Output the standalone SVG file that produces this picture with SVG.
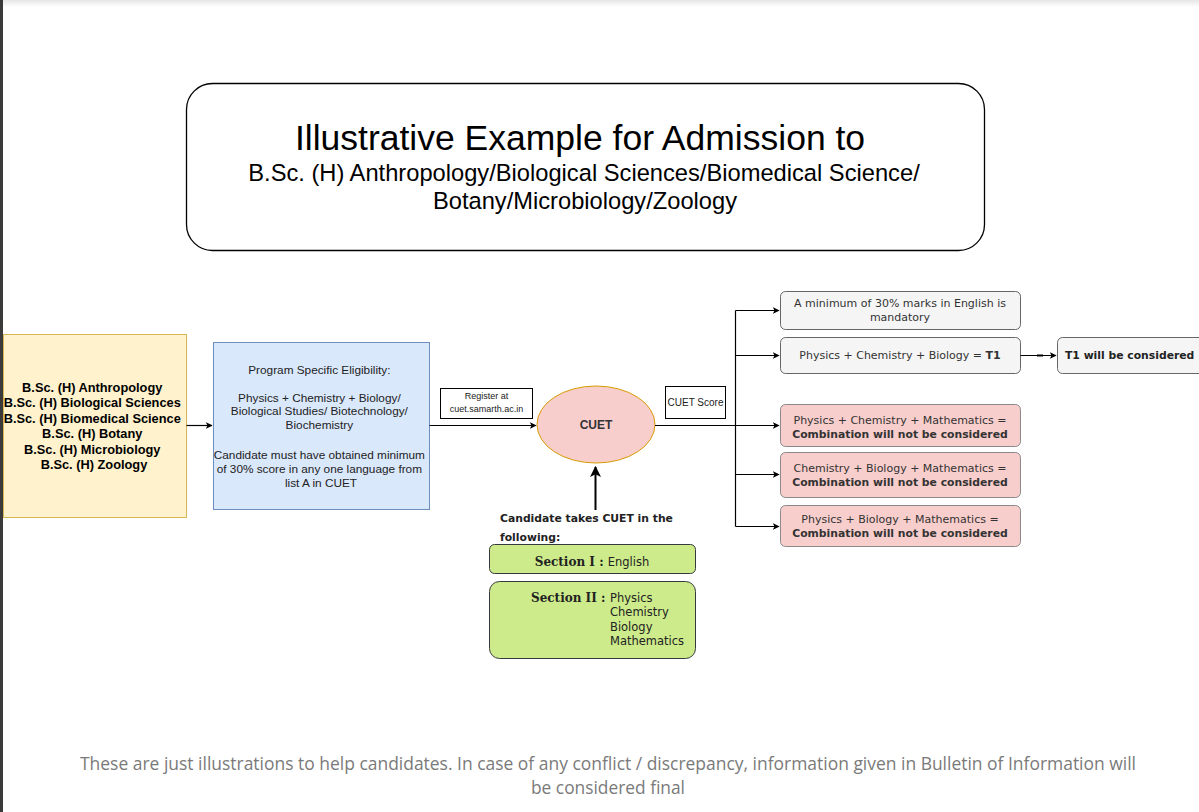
<svg xmlns="http://www.w3.org/2000/svg" width="1199" height="812" viewBox="0 0 1199 812">
<defs>
<linearGradient id="topShade" x1="0" y1="0" x2="0" y2="1">
<stop offset="0" stop-color="#e6e6e6"/>
<stop offset="1" stop-color="#ffffff"/>
</linearGradient>
<marker id="arr" viewBox="0 0 10 10" refX="9" refY="5" markerWidth="7" markerHeight="7" markerUnits="userSpaceOnUse" orient="auto">
<path d="M0,0 L10,5 L0,10 L2.5,5 Z" fill="#000"/>
</marker>
<marker id="arrBig" viewBox="0 0 10 10" refX="9" refY="5" markerWidth="11" markerHeight="11" markerUnits="userSpaceOnUse" orient="auto">
<path d="M0,0 L10,5 L0,10 L2.5,5 Z" fill="#000"/>
</marker>
</defs>
<style>
.sans{font-family:"Liberation Sans",Arial,sans-serif}
.ver{font-family:"DejaVu Sans",Verdana,sans-serif}
.conn{fill:none;stroke:#000;stroke-width:1.2}
.lbl{fill:#fff;stroke:#000;stroke-width:1}
.grey{fill:#f5f5f5;stroke:#666;stroke-width:1}
.red{fill:#f8cecc;stroke:#8a8a8a;stroke-width:1}
.green{fill:#cdeb8b;stroke:#36393d;stroke-width:1}
.t11{font-size:11px;fill:#333}
.b11{font-size:10.8px;font-weight:bold}
</style>
<rect x="0" y="0" width="1199" height="812" fill="#fff"/>
<rect x="0" y="0" width="1199" height="7" fill="url(#topShade)"/>
<rect x="0" y="0" width="3" height="812" fill="#3a3a3a"/>

<g id="title">
<rect x="186.5" y="83.5" width="798" height="167" rx="26" fill="#fff" stroke="#000" stroke-width="1.3"/>
<text class="sans" x="580" y="150" font-size="35.5" text-anchor="middle" fill="#000">Illustrative Example for Admission to</text>
<text class="sans" x="584" y="181" font-size="23.7" text-anchor="middle" fill="#000">B.Sc. (H) Anthropology/Biological Sciences/Biomedical Science/</text>
<text class="sans" x="585" y="209" font-size="23.7" text-anchor="middle" fill="#000">Botany/Microbiology/Zoology</text>
</g>

<g id="courses">
<rect x="3.5" y="334.5" width="183" height="183" fill="#fff2cc" stroke="#d6b656" stroke-width="1"/>
<text class="sans" font-size="12.8" font-weight="bold" text-anchor="middle" fill="#000">
<tspan x="94" y="391.5">B.Sc. (H) Anthropology</tspan>
<tspan x="94" y="407">B.Sc. (H) Biological Sciences</tspan>
<tspan x="94" y="422.5">B.Sc. (H) Biomedical Science</tspan>
<tspan x="94" y="438">B.Sc. (H) Botany</tspan>
<tspan x="94" y="453.5">B.Sc. (H) Microbiology</tspan>
<tspan x="94" y="469">B.Sc. (H) Zoology</tspan>
</text>
</g>

<g id="eligibility">
<rect x="213.5" y="342.5" width="216" height="167" fill="#dae8fc" stroke="#6c8ebf" stroke-width="1"/>
<text class="sans" font-size="11.8" text-anchor="middle" fill="#222">
<tspan x="321" y="373.5">Program Specific Eligibility:</tspan>
<tspan x="321" y="401.5">Physics + Chemistry + Biology/</tspan>
<tspan x="321" y="415">Biological Studies/ Biotechnology/</tspan>
<tspan x="321" y="428.5">Biochemistry</tspan>
<tspan x="321" y="458.5">Candidate must have obtained minimum</tspan>
<tspan x="321" y="472.5">of 30% score in any one language from</tspan>
<tspan x="321" y="486.5">list A in CUET</tspan>
</text>
</g>

<g id="cuet">
<ellipse cx="596" cy="424.5" rx="59" ry="38.5" fill="#f8cecc" stroke="#d79b00" stroke-width="1"/>
<text class="sans" x="596" y="429" font-size="12" font-weight="bold" text-anchor="middle" fill="#333">CUET</text>
</g>

<g id="takes">
<text class="ver" font-size="10.8" font-weight="bold" fill="#222">
<tspan x="500" y="522">Candidate takes CUET in the</tspan>
<tspan x="500" y="541">following:</tspan>
</text>
</g>

<g id="section1">
<rect x="489.5" y="544.5" width="206" height="29" rx="5" class="green"/>
<text class="ver" x="592" y="566" font-size="12" text-anchor="middle" fill="#222"><tspan font-weight="bold" font-family="'DejaVu Serif',Georgia,serif">Section I : </tspan><tspan font-size="11.5">English</tspan></text>
</g>

<g id="section2">
<rect x="489.5" y="581.5" width="206" height="77" rx="10" class="green"/>
<text x="531" y="602" font-size="12" font-weight="bold" font-family="'DejaVu Serif',Georgia,serif" fill="#222">Section II :</text>
<text class="ver" font-size="11.5" fill="#222">
<tspan x="610" y="602">Physics</tspan>
<tspan x="610" y="616">Chemistry</tspan>
<tspan x="610" y="631">Biology</tspan>
<tspan x="610" y="645">Mathematics</tspan>
</text>
</g>

<g id="english">
<rect x="780.5" y="291.5" width="240" height="38" rx="5" class="grey"/>
<text class="ver t11" text-anchor="middle"><tspan x="900" y="307">A minimum of 30% marks in English is</tspan><tspan x="900" y="321">mandatory</tspan></text>
</g>

<g id="pcb">
<rect x="780.5" y="337.5" width="240" height="36" rx="5" class="grey"/>
<text class="ver t11" x="900" y="359" text-anchor="middle">Physics + Chemistry + Biology = <tspan font-weight="bold">T1</tspan></text>
</g>

<g id="t1">
<rect x="1057.5" y="337.5" width="150" height="36" rx="5" class="grey"/>
<text class="ver b11" x="1065" y="359" fill="#222">T1 will be considered</text>
</g>

<g id="pcm">
<rect x="780.5" y="404.5" width="240" height="42" rx="5" class="red"/>
<text class="ver t11" text-anchor="middle"><tspan x="900" y="424">Physics + Chemistry + Mathematics =</tspan><tspan x="900" y="438" class="b11">Combination will not be considered</tspan></text>
</g>

<g id="cbm">
<rect x="780.5" y="452.5" width="240" height="45" rx="5" class="red"/>
<text class="ver t11" text-anchor="middle"><tspan x="900" y="472">Chemistry + Biology + Mathematics =</tspan><tspan x="900" y="486" class="b11">Combination will not be considered</tspan></text>
</g>

<g id="pbm">
<rect x="780.5" y="505.5" width="240" height="41" rx="5" class="red"/>
<text class="ver t11" text-anchor="middle"><tspan x="900" y="523">Physics + Biology + Mathematics =</tspan><tspan x="900" y="537" class="b11">Combination will not be considered</tspan></text>
</g>

<g id="connectors">
<path class="conn" d="M186.5,425.5 H212" marker-end="url(#arr)"/>
<path class="conn" d="M429.5,425.5 H536" stroke="#555" marker-end="url(#arr)"/>
<path d="M595.5,510 V467" fill="none" stroke="#000" stroke-width="2" marker-end="url(#arrBig)"/>
<path class="conn" d="M655,425.5 H735.5" stroke-width="1.8"/>
<path class="conn" d="M735.5,310.5 V526.5"/>
<path class="conn" d="M735.5,310.5 H779" marker-end="url(#arr)"/>
<path class="conn" d="M735.5,355.5 H779" marker-end="url(#arr)"/>
<path class="conn" d="M735.5,425.5 H779" marker-end="url(#arr)"/>
<path class="conn" d="M735.5,474.5 H779" marker-end="url(#arr)"/>
<path class="conn" d="M735.5,526.5 H779" marker-end="url(#arr)"/>
<path class="conn" d="M1020.5,355.5 H1056" stroke="#555" marker-end="url(#arr)"/>
<path d="M1037,355.5 H1043" stroke="#000" stroke-width="2"/>
<g id="register-label">
<rect x="440.5" y="388.5" width="92" height="30" class="lbl"/>
<text class="sans" font-size="9" text-anchor="middle" fill="#222"><tspan x="486.5" y="399">Register at</tspan><tspan x="486.5" y="412">cuet.samarth.ac.in</tspan></text>
</g>
<g id="score-label">
<rect x="665.5" y="386.5" width="60" height="32" class="lbl"/>
<text class="sans" x="695.5" y="405.5" font-size="10" text-anchor="middle" fill="#222">CUET Score</text>
</g>
</g>

<g id="footer">
<text x="608" y="770" font-family="'Open Sans',sans-serif" font-size="17.5" fill="#7a7a7a" text-anchor="middle" textLength="1056" lengthAdjust="spacingAndGlyphs">These are just illustrations to help candidates. In case of any conflict / discrepancy, information given in Bulletin of Information will</text>
<text x="608" y="794" font-family="'Open Sans',sans-serif" font-size="17.5" fill="#7a7a7a" text-anchor="middle" textLength="154" lengthAdjust="spacingAndGlyphs">be considered final</text>
</g>
</svg>
